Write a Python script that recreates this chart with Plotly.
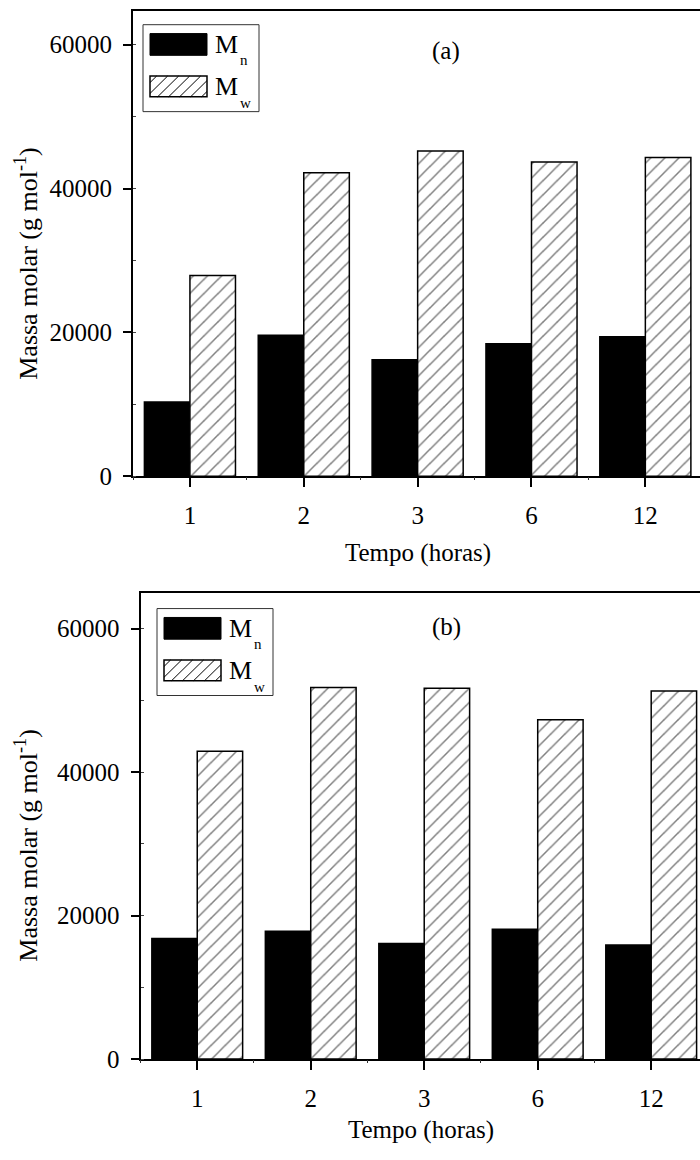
import plotly.graph_objects as go

# ---------------- data ----------------
categories = ["1", "2", "3", "6", "12"]
mn_a = [10300, 19600, 16200, 18400, 19400]
mw_a = [27900, 42200, 45200, 43700, 44300]
mn_b = [16800, 17800, 16100, 18100, 15900]
mw_b = [42900, 51800, 51700, 47300, 51300]

series_names = ["M<sub>n</sub>", "M<sub>w</sub>"]
x_title = "Tempo (horas)"
y_title = "Massa molar (g mol<sup>-1</sup>)"
panel_labels = ["(a)", "(b)"]
y_ticks = [0, 20000, 40000, 60000]

W, H = 700, 1160
FONT = "Liberation Serif, serif"


def px(x):
    return x / W


def py(y):
    return 1 - y / H


fig = go.Figure()

hatch = dict(shape="/", fgcolor="black", bgcolor="white", size=10, solidity=0.15)

for xa, ya, mn, mw in [("x", "y", mn_a, mw_a), ("x2", "y2", mn_b, mw_b)]:
    fig.add_trace(go.Bar(x=categories, y=mn, name=series_names[0], xaxis=xa, yaxis=ya,
                         marker=dict(color="black", line=dict(color="black", width=1.5)),
                         showlegend=False))
    fig.add_trace(go.Bar(x=categories, y=mw, name=series_names[1], xaxis=xa, yaxis=ya,
                         marker=dict(color="white", pattern=hatch,
                                     line=dict(color="black", width=1.5)),
                         showlegend=False))

# helper traces for boundary (minor) ticks on category axes
fig.add_trace(go.Scatter(x=categories, y=[0] * len(categories), xaxis="x3", yaxis="y",
                         mode="none", showlegend=False, hoverinfo="skip"))
fig.add_trace(go.Scatter(x=categories, y=[0] * len(categories), xaxis="x4", yaxis="y2",
                         mode="none", showlegend=False, hoverinfo="skip"))

# panel geometry in pixels
panels = [
    dict(left=133, top=11, bottom=482, xmax=4.48, ymax=64700),
    dict(left=140.5, top=600, bottom=1072, xmax=4.43, ymax=65000),
]

tickfont = dict(family=FONT, size=25, color="black")


def xaxis_cfg(p, anchor):
    return dict(domain=[px(p["left"]), 1], range=[-0.5, p["xmax"]], anchor=anchor,
                type="category", categoryorder="array", categoryarray=categories,
                showline=True, linewidth=2, linecolor="black", mirror=True,
                ticks="outside", ticklen=9, tickwidth=2, tickcolor="black",
                ticklabelstandoff=7,
                tickfont=tickfont, showgrid=False, zeroline=False, fixedrange=True)


def yaxis_cfg(p, anchor):
    return dict(domain=[py(p["bottom"]), py(p["top"])], range=[0, p["ymax"]], anchor=anchor,
                showline=True, linewidth=2, linecolor="black", mirror=False,
                ticks="outside", ticklen=8, tickwidth=2, tickcolor="black",
                tickvals=y_ticks, tickformat="d", ticklabelstandoff=6,
                minor=dict(ticks="inside", ticklen=3, tickwidth=1, tickcolor="#444",
                           dtick=10000, tick0=0, showgrid=False),
                tickfont=tickfont, showgrid=False, zeroline=False, fixedrange=True)


def boundary_cfg(p, over, anchor):
    return dict(domain=[px(p["left"]), 1], range=[-0.5, p["xmax"]], anchor=anchor,
                overlaying=over, type="category", categoryorder="array",
                categoryarray=categories, tickson="boundaries",
                ticks="outside", ticklen=3, tickwidth=1, tickcolor="#333",
                showticklabels=False, showline=False, showgrid=False, zeroline=False)


fig.update_layout(
    xaxis=xaxis_cfg(panels[0], "y"), yaxis=yaxis_cfg(panels[0], "x"),
    xaxis2=xaxis_cfg(panels[1], "y2"), yaxis2=yaxis_cfg(panels[1], "x2"),
    xaxis3=boundary_cfg(panels[0], "x", "y"),
    xaxis4=boundary_cfg(panels[1], "x2", "y2"),
)

# ---------------- legend boxes, titles, labels ----------------
shapes = []
annotations = []


def rect(x0, y0, x1, y1, **kw):
    shapes.append(dict(type="rect", xref="paper", yref="paper",
                       x0=px(x0), x1=px(x1), y0=py(y1), y1=py(y0), layer="above", **kw))


def hatch_lines(x0, y0, x1, y1, step):
    c = x0 + y0 + step * 0.6
    while c < x1 + y1:
        xa = max(x0, c - y1)
        xb = min(x1, c - y0)
        shapes.append(dict(type="line", xref="paper", yref="paper",
                           x0=px(xa), y0=py(c - xa), x1=px(xb), y1=py(c - xb),
                           line=dict(color="black", width=1), layer="above"))
        c += step


legend_pos = [dict(bx=143, by=25), dict(bx=157, by=616)]
label_pos = [dict(x=446, y=52), dict(x=446, y=635)]
ytitle_y = [267, 856]
xtitle_y = [560, 1144]

for i, p in enumerate(panels):
    L = legend_pos[i]
    bx, by = L["bx"], L["by"]
    # box
    rect(bx, by, bx + 116, by + 88, line=dict(color="#333", width=1), fillcolor="white")
    # black swatch
    rect(bx + 7, by + 9, bx + 64, by + 31, line=dict(color="black", width=1),
         fillcolor="black")
    # hatched swatch
    rect(bx + 7, by + 52, bx + 64, by + 73, line=dict(color="black", width=1.5),
         fillcolor="white")
    hatch_lines(bx + 7, by + 52, bx + 64, by + 73, 11)
    for j, (yy, sub) in enumerate([(by + 20, "n"), (by + 63, "w")]):
        annotations.append(dict(text="M", xref="paper", yref="paper", x=px(bx + 70),
                                y=py(yy), xanchor="left", yanchor="middle", showarrow=False,
                                font=dict(family=FONT, size=26, color="black")))
        annotations.append(dict(text=sub, xref="paper", yref="paper", x=px(bx + 95),
                                y=py(yy + 16), xanchor="left", yanchor="middle",
                                showarrow=False,
                                font=dict(family=FONT, size=15, color="black")))
    # panel label
    annotations.append(dict(text=panel_labels[i], xref="paper", yref="paper",
                            x=px(label_pos[i]["x"]), y=py(label_pos[i]["y"]),
                            xanchor="center", yanchor="middle", showarrow=False,
                            font=dict(family=FONT, size=25, color="black")))
    # y title
    annotations.append(dict(text=y_title, xref="paper", yref="paper", x=px(27),
                            y=py(ytitle_y[i]), xanchor="center", yanchor="middle",
                            textangle=-90, showarrow=False,
                            font=dict(family=FONT, size=26, color="black")))
    # x title
    xc = (p["left"] + 702) / 2
    annotations.append(dict(text=x_title, xref="paper", yref="paper", x=px(xc),
                            y=py(xtitle_y[i]), xanchor="center", yanchor="middle",
                            showarrow=False,
                            font=dict(family=FONT, size=25, color="black")))

fig.update_layout(
    width=W, height=H,
    margin=dict(l=0, r=0, t=0, b=0),
    paper_bgcolor="white", plot_bgcolor="white",
    barmode="group", bargap=0.2, bargroupgap=0,
    font=dict(family=FONT, size=25, color="black"),
    shapes=shapes, annotations=annotations,
    showlegend=False,
)

fig.write_html("out.html",
               config={"displayModeBar": False},
               post_script="document.body.style.margin='0px';"
                           "document.documentElement.style.overflow='hidden';")
